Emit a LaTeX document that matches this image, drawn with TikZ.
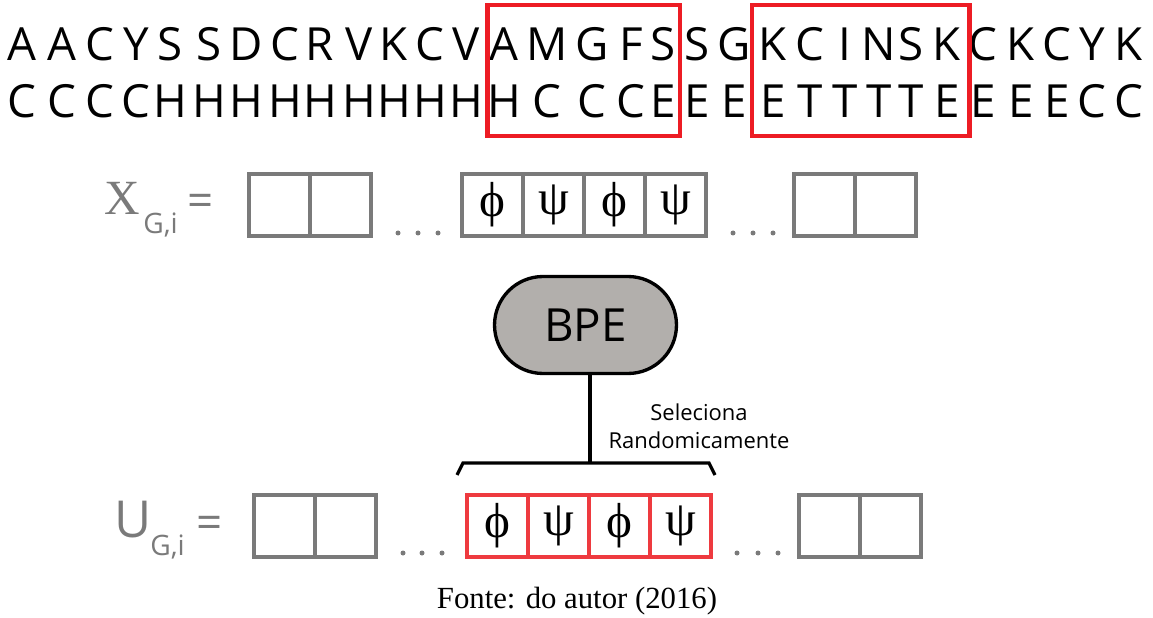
\documentclass[tikz,border=0pt]{standalone}
\usepackage{fontspec}
\setmainfont{Liberation Serif}
\setsansfont{Open Sans}
\usetikzlibrary{positioning}
\definecolor{cellgray}{HTML}{7A7A7A}
\definecolor{markred}{HTML}{ED1C24}
\definecolor{pickred}{HTML}{EE3A3F}
\definecolor{bpegray}{HTML}{B2AFAC}

\begin{document}
\begin{tikzpicture}[
  x=0.02cm, y=-0.02cm,
  seq/.style={font=\sffamily\fontsize{26}{28}\selectfont, anchor=base, inner sep=0pt},
  cell/.style={draw=cellgray, line width=2.2pt, minimum width=1.22cm, minimum height=1.24cm,
               inner sep=0pt, outer sep=0pt, font=\fontsize{28}{30}\selectfont},
  pick/.style={cell, draw=pickred, line width=1.9pt},
  window/.style={draw=markred, line width=2.6pt},
  dot/.style={circle, fill=cellgray, inner sep=0pt, minimum size=0.1cm},
  lbl/.style={text=cellgray, inner sep=0pt, anchor=base},
  sub/.style={lbl, anchor=base west, font=\sffamily\fontsize{16}{18}\selectfont},
  link/.style={line width=1.8pt, black},
]
\useasboundingbox (0,0) rectangle (1153,618);
% ----- residues and secondary structure -----
\foreach \x/\a/\s [count=\i] in {22/A/C, 62/A/C, 100/C/C, 136/Y/C, 170/S/H, 209/S/H, 246/D/H,
    285/C/H, 320/R/H, 359/V/H, 394/K/H, 430/C/H, 466/V/H, 504/A/H, 547/M/C, 592/G/C, 631/F/C,
    663/S/E, 697/S/E, 734/G/E, 773/K/E, 810/C/T, 845/I/T, 879/N/T, 911/S/T, 947/K/E, 983/C/E,
    1021/K/E, 1057/C/E, 1092/Y/C, 1129/K/C}{
  \node[seq] (aa\i) at (\x,61) {\a};
  \node[seq] (ss\i) at (\x,118) {\s};
}
\draw[window] (487.5,5) rectangle (680,136);
\draw[window] (752,5) rectangle (969.5,136);
% ----- X row -----
\node[lbl, font=\fontsize{28}{30}\selectfont] (xlab) at (122,215) {X};
\node[sub] (xsub) at (143,234) {G,i};
\node[lbl, font=\sffamily\fontsize{26}{28}\selectfont] (xeq) at (201,217) {=};
\node[cell] (x1) at (279.5,205) {};
\node[cell, right=0pt of x1] (x2) {};
\node[cell] (x3) at (492.5,205) {ϕ};
\node[cell, right=0pt of x3] (x4) {ψ};
\node[cell, right=0pt of x4] (x5) {ϕ};
\node[cell, right=0pt of x5] (x6) {ψ};
\node[cell] (x7) at (824.5,205) {};
\node[cell, right=0pt of x7] (x8) {};
\foreach \x in {398,418,438,733,753,773}{\node[dot] (xd\x) at (\x,233) {};}
% ----- BPE and random pick -----
\node[draw, line width=1.9pt, fill=bpegray, rounded corners=0.97cm, minimum width=3.64cm,
      minimum height=1.94cm, font=\sffamily\fontsize{26}{28}\selectfont] (bpe) at (585.5,325) {BPE};
\coordinate (split) at (590,463);
\coordinate (brl) at (463,463);
\coordinate (brr) at (709,463);
\draw[link] (bpe.south -| split) -- (split);
\draw[link] ([shift={(-6,12)}]brl) -- (brl) -- (brr) -- ([shift={(6,12)}]brr);
\node[font=\sffamily\fontsize{12.5}{16}\selectfont, align=center] (pickl) at (699,426)
  {Seleciona\\Randomicamente};
% ----- U row -----
\node[lbl, font=\sffamily\fontsize{29}{32}\selectfont] (ulab) at (133.5,537) {U};
\node[sub] (usub) at (150,555) {G,i};
\node[lbl, font=\sffamily\fontsize{26}{28}\selectfont] (ueq) at (209.5,538) {=};
\node[cell] (u1) at (284.5,526) {};
\node[cell, right=0pt of u1] (u2) {};
\node[pick] (u3) at (497.5,526) {ϕ};
\node[pick, right=0pt of u3] (u4) {ψ};
\node[pick, right=0pt of u4] (u5) {ϕ};
\node[pick, right=0pt of u5] (u6) {ψ};
\node[cell] (u7) at (829.5,526) {};
\node[cell, right=0pt of u7] (u8) {};
\foreach \x in {403,422,442,737,758,778}{\node[dot] (ud\x) at (\x,553) {};}
% ----- source line -----
\node[anchor=base, inner sep=0pt, font=\fontsize{17.5}{20}\selectfont] (fonte) at (577,608)
  {Fonte: do autor (2016)};
\end{tikzpicture}
\end{document}
